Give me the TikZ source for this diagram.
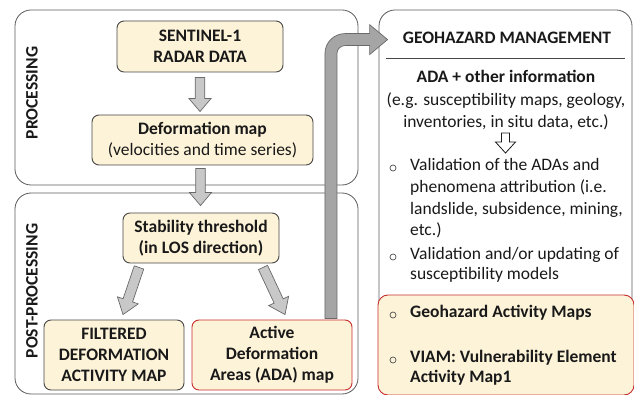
\documentclass[tikz,border=0pt]{standalone}
\usepackage{fontspec}
\setmainfont{Carlito}
\usetikzlibrary{calc}
\definecolor{cream}{RGB}{253,243,216}
\definecolor{boxgray}{RGB}{70,70,70}
\definecolor{panelgray}{RGB}{90,90,90}
\definecolor{redc}{RGB}{200,45,45}
\definecolor{arrfill}{RGB}{200,200,200}
\definecolor{arredge}{RGB}{105,105,105}
\definecolor{bigfill}{RGB}{165,165,165}
\definecolor{txt}{RGB}{25,25,25}
\newcommand\blockarrow[6][flow]{%
  \coordinate (bah) at ($(#3)!#6!(#2)$);
  \draw[#1] ($(#2)!#4!90:(#3)$) -- ($(bah)!#4!90:(#3)$) -- ($(bah)!#5!90:(#3)$)
    -- (#3) -- ($(bah)!#5!-90:(#3)$) -- ($(bah)!#4!-90:(#3)$) -- ($(#2)!#4!-90:(#3)$) -- cycle;}
\tikzset{
  panel/.style={draw=panelgray, line width=0.8pt, rounded corners=16pt, inner sep=0pt},
  box/.style={draw=boxgray, fill=cream, line width=0.9pt, rounded corners=7pt, align=center,
    font=\fontsize{17.5}{21}\selectfont\bfseries, text=txt, inner sep=0pt},
  redbox/.style={box, draw=redc},
  flow/.style={fill=arrfill, draw=arredge, line width=0.7pt},
  hollow/.style={fill=white, draw=txt, line width=0.8pt},
  side/.style={rotate=90, font=\fontsize{17.5}{20}\selectfont\bfseries, text=txt},
  ctr/.style={anchor=mid, inner sep=0pt, font=\fontsize{17.5}{20}\selectfont, text=txt},
  lft/.style={anchor=mid west, inner sep=0pt, font=\fontsize{17.5}{20}\selectfont, text=txt},
  bfont/.style={font=\fontsize{17.5}{20}\selectfont\bfseries},
  bul/.style={circle, draw=txt!75, line width=0.7pt, minimum size=6pt, inner sep=0pt},
}
\begin{document}
\begin{tikzpicture}[x=1pt,y=-1pt]
\useasboundingbox (0,0) rectangle (634,395);
% panels
\node[panel, minimum width=343pt, minimum height=175pt] (proc) at (186.5,97.5) {};
\node[panel, minimum width=343pt, minimum height=201pt] (post) at (186.5,293.5) {};
\node[panel, minimum width=253pt, minimum height=385pt] (geo) at (505.5,202.5) {};
\node[side] (plab) at (32,93) {PROCESSING};
\node[side] (pplab) at (32,291) {POST-PROCESSING};
% boxes
\node[box, minimum width=166pt, minimum height=51pt] (sent) at (200,46.5) {SENTINEL-1\\RADAR DATA};
\node[box, minimum width=221pt, minimum height=50pt] (defm) at (202.5,140) {Deformation map\\{\mdseries (velocities and time series)}};
\node[box, minimum width=156pt, minimum height=50pt] (stab) at (201,238) {Stability threshold\\(in LOS direction)};
\node[box, minimum width=140pt, minimum height=70pt] (filt) at (114,355) {FILTERED\\DEFORMATION\\ACTIVITY MAP};
\node[redbox, minimum width=160pt, minimum height=70pt] (act) at (272,355) {Active\\Deformation\\Areas (ADA) map};
% arrows
\coordinate (a1s) at ($(sent.south)+(0,5)$);
\coordinate (a1e) at ($(defm.north)+(-2.5,-3)$);
\blockarrow{a1s}{a1s |- a1e}{4.8pt}{11pt}{13pt}
\coordinate (a2s) at ($(defm.south)+(-2,3)$);
\coordinate (a2e) at ($(stab.north)+(0,-7)$);
\blockarrow{a2s}{a2s |- a2e}{4.8pt}{11pt}{13pt}
\coordinate (a3s) at ($(stab.south)+(-62,4)$);
\coordinate (a3e) at ($(filt.north)+(9,-5)$);
\blockarrow{a3s}{a3e}{5pt}{11pt}{15pt}
\coordinate (a4s) at ($(stab.south)+(62,4)$);
\coordinate (a4e) at ($(act.north)+(13,-5)$);
\blockarrow{a4s}{a4e}{5pt}{11pt}{15pt}
% big curved arrow
\coordinate (ca) at ($(act.north east)+(-21.5,-1)$);
\coordinate (cb) at ($(geo.north west)+(9,30)$);
\draw[fill=bigfill, draw=arredge, line width=0.7pt]
  ($(ca)+(-6,0)$) [rounded corners=20pt] -- ($(ca |- cb)+(-6,-6)$) [sharp corners] -- ($(cb)+(-18,-6)$)
  -- ($(cb)+(-18,-15)$) -- (cb) -- ($(cb)+(-18,15)$) -- ($(cb)+(-18,6)$)
  [rounded corners=8pt] -- ($(ca |- cb)+(6,6)$) [sharp corners] -- ($(ca)+(6,0)$) -- cycle;
% geohazard panel content
\node[ctr, bfont] (gh) at (507,41) {GEOHAZARD MANAGEMENT};
\coordinate (hl1) at (386,58);
\coordinate (hl2) at (625,58);
\draw[boxgray, line width=0.8pt] (hl1) -- (hl2);
\node[ctr, bfont] (ada) at (506,80) {ADA + other information};
\node[ctr] (eg1) at (506,103) {(e.g. susceptibility maps, geology,};
\node[ctr] (eg2) at (506,125) {inventories, in situ data, etc.)};
\coordinate (h1) at (505.5,133);
\coordinate (h2) at (505.5,153);
\blockarrow[hollow]{h1}{h2}{4pt}{10pt}{11pt}
\node[bul] (b1) at (393,168) {};
\node[lft] (t11) at (410,168) {Validation of the ADAs and};
\node[lft] (t12) at (410,190) {phenomena attribution (i.e.};
\node[lft] (t13) at (410,212) {landslide, subsidence, mining,};
\node[lft] (t14) at (410,233) {etc.)};
\node[bul] (b2) at (393,257) {};
\node[lft] (t21) at (410,257) {Validation and/or updating of};
\node[lft] (t22) at (410,277) {susceptibility models};
% red result box
\node[draw=redc, fill=cream, line width=0.9pt, rounded corners=10pt, minimum width=256pt, minimum height=100pt, inner sep=0pt] (res) at (506,345) {};
\node[bul] (b3) at (393,315) {};
\node[lft, bfont] (r1) at (410,315) {Geohazard Activity Maps};
\node[bul] (b4) at (393,360) {};
\node[lft, bfont] (r2) at (410,360) {VIAM: Vulnerability Element};
\node[lft, bfont] (r3) at (410,380) {Activity Map1};
\end{tikzpicture}
\end{document}
